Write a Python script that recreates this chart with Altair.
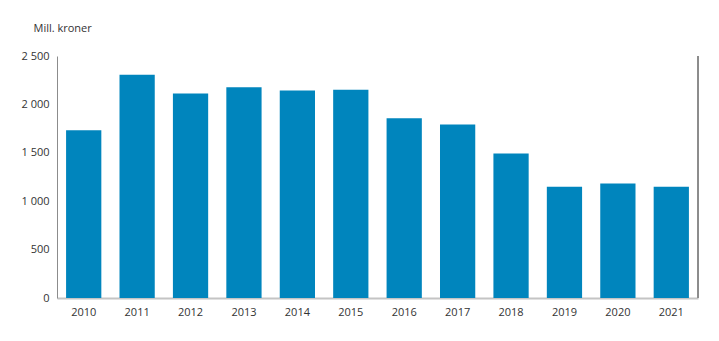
import altair as alt
import pandas as pd

years = ["2010", "2011", "2012", "2013", "2014", "2015", "2016", "2017", "2018", "2019", "2020", "2021"]
values = [1733, 2306, 2113, 2178, 2144, 2151, 1858, 1792, 1493, 1149, 1183, 1149]

df = pd.DataFrame({"year": years, "value": values})

W, H = 641, 242
FONT = "Open Sans"

bars = alt.Chart(df).mark_bar(color="#0085BD").encode(
    x=alt.X("year:N", sort=years,
            scale=alt.Scale(paddingInner=0.34, paddingOuter=0.17),
            axis=alt.Axis(title=None, labelAngle=0, ticks=False, domainColor="#c4c4c4",
                          domainWidth=2, labelPadding=8, labelFont=FONT, labelFontSize=11,
                          labelColor="#333333")),
    y=alt.Y("value:Q", scale=alt.Scale(domain=[0, 2500], nice=False),
            axis=alt.Axis(title="Mill. kroner", titleAngle=0, titleAlign="left",
                          titleBaseline="alphabetic", titleX=-24, titleY=-25,
                          titleFont=FONT, titleFontSize=11, titleFontWeight="normal",
                          titleColor="#333333",
                          values=[0, 500, 1000, 1500, 2000, 2500], grid=False, ticks=False,
                          domainColor="#8c8c8c", labelPadding=8,
                          labelExpr="replace(format(datum.value, ','), /,/g, ' ')",
                          labelFont=FONT, labelFontSize=11, labelColor="#333333")),
)

right = alt.Chart(df).mark_rule(color="#8c8c8c", strokeWidth=1).encode(
    x=alt.value(W), y=alt.value(0), y2=alt.value(H)
)

chart = alt.layer(bars, right).properties(
    width=W, height=H,
    autosize=alt.AutoSizeParams(type="none"),
    padding={"left": 57, "top": 56, "right": 21, "bottom": 43},
    background="white",
).configure_view(stroke=None)

chart.save("out.html", embed_options={"renderer": "svg", "actions": False})
